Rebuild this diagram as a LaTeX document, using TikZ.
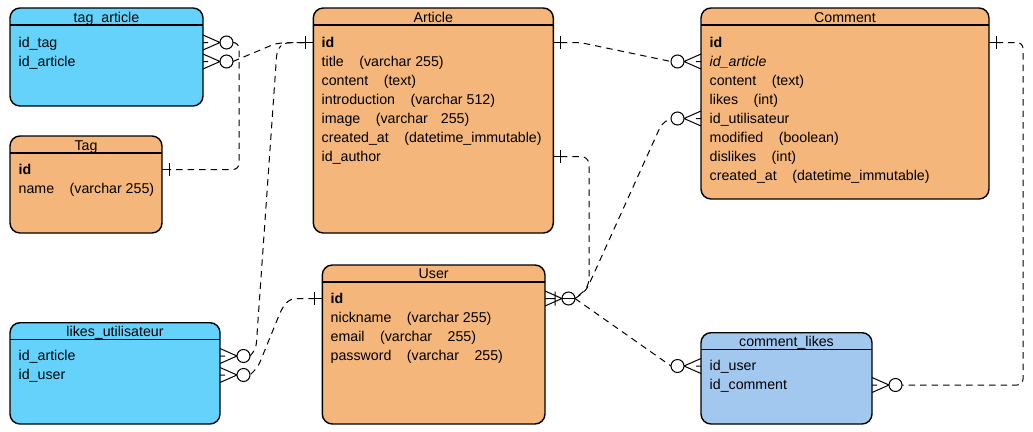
\documentclass[tikz,border=0pt]{standalone}
\usepackage{fontspec}
\setmainfont{Liberation Sans}
\definecolor{entOrange}{RGB}{244,182,122}
\definecolor{entCyan}{RGB}{100,210,250}
\definecolor{entBlue}{RGB}{163,200,240}
\newcommand{\tsep}{\hspace{15.5pt}}
\newcommand{\nsep}{\hspace{13pt}}
\tikzset{
  entity/.style={draw=black, line width=1.4pt, rounded corners=10pt,
    anchor=north west, inner sep=0pt, outer sep=0pt},
  hdrline/.style={draw=black, line width=1.1pt},
  hdr/.style={anchor=base, inner sep=0pt},
  % attribute rows: anchored on the attribute's line, text set slightly lower
  row/.style={anchor=mid west, inner sep=0pt,
    execute at begin node={\setbox0\hbox\bgroup},
    execute at end node={\egroup\lower2pt\box0}},
  fk/.style={draw=black, line width=1pt, dash pattern=on 6.5pt off 5pt, rounded corners=6pt},
  endmark/.style={draw=black, line width=1pt, solid},
  % zero-or-many end: crow's foot at the entity, circle outside
  manyzero/.pic={
    \draw[endmark] (0,-7.5) -- (17,0) -- (0,7.5) (0,0) -- (5,0);
    \draw[endmark, fill=white] (23.5,0) circle (6.5);
    \coordinate (-end) at (30,0);
  },
  % zero-or-many end with an extra bar, circle crossed by the line
  manyzerobar/.pic={
    \draw[endmark] (0,-7.5) -- (17,0) -- (0,7.5) (0,0) -- (10,0) (10,-7) -- (10,7);
    \draw[endmark, fill=white] (23.5,0) circle (6.5);
    \draw[endmark] (17,0) -- (30,0);
    \coordinate (-end) at (30,0);
  },
  % exactly-one end: short line with a bar
  onemark/.pic={
    \draw[endmark] (0,0) -- (7.5,0) (7.5,-6.5) -- (7.5,6.5);
    \coordinate (-end) at (7.5,0);
  },
}
\begin{document}
\begin{tikzpicture}[x=1pt, y=-1pt, font=\fontsize{14.2}{17}\selectfont]
\useasboundingbox (0,0) rectangle (1033,431);

% ---------- entities ----------
\node[entity, fill=entCyan, minimum width=193pt, minimum height=98pt] (tagA) at (10,8) {};
\draw[hdrline] ([yshift=-17pt]tagA.north west) -- ([yshift=-17pt]tagA.north east);
\node[hdr] (tagA-t) at ([yshift=-14pt]tagA.north) {tag\_article};
\node[row] (ta-1) at (18.5,42.5) {id\_tag};
\node[row] (ta-2) at (18.5,61.5) {id\_article};

\node[entity, fill=entOrange, minimum width=152pt, minimum height=97pt] (tag) at (10,136) {};
\draw[hdrline] ([yshift=-17pt]tag.north west) -- ([yshift=-17pt]tag.north east);
\node[hdr] (tag-t) at ([yshift=-14pt]tag.north) {Tag};
\node[row] (tg-1) at (18.5,169.5) {\textbf{id}};
\node[row] (tg-2) at (18.5,188.5) {name\tsep(varchar 255)};

\node[entity, fill=entOrange, minimum width=240pt, minimum height=225pt] (article) at (313.3,8) {};
\draw[hdrline] ([yshift=-17pt]article.north west) -- ([yshift=-17pt]article.north east);
\node[hdr] (article-t) at ([yshift=-14pt]article.north) {Article};
\node[row] (ar-1) at (321.5,42.5) {\textbf{id}};
\node[row] (ar-2) at (321.5,61.5) {title\tsep(varchar 255)};
\node[row] (ar-3) at (321.5,80.5) {content\tsep(text)};
\node[row] (ar-4) at (321.5,99.5) {introduction\tsep(varchar 512)};
\node[row] (ar-5) at (321.5,118.5) {image\tsep(varchar\nsep 255)};
\node[row] (ar-6) at (321.5,137.5) {created\_at\tsep(datetime\_immutable)};
\node[row] (ar-7) at (321.5,156.5) {id\_author};

\node[entity, fill=entOrange, minimum width=288pt, minimum height=191pt] (comment) at (701,8) {};
\draw[hdrline] ([yshift=-17pt]comment.north west) -- ([yshift=-17pt]comment.north east);
\node[hdr] (comment-t) at ([yshift=-14pt]comment.north) {Comment};
\node[row] (cm-1) at (709.5,42.5) {\textbf{id}};
\node[row] (cm-2) at (709.5,61.5) {\textit{id\_article}};
\node[row] (cm-3) at (709.5,80.5) {content\tsep(text)};
\node[row] (cm-4) at (709.5,99.5) {likes\tsep(int)};
\node[row] (cm-5) at (709.5,118.5) {id\_utilisateur};
\node[row] (cm-6) at (709.5,137.5) {modified\tsep(boolean)};
\node[row] (cm-7) at (709.5,156.5) {dislikes\tsep(int)};
\node[row] (cm-8) at (709.5,175.5) {created\_at\tsep(datetime\_immutable)};

\node[entity, fill=entOrange, minimum width=222.7pt, minimum height=159pt] (user) at (322.3,265) {};
\draw[hdrline] ([yshift=-17pt]user.north west) -- ([yshift=-17pt]user.north east);
\node[hdr] (user-t) at ([yshift=-13pt]user.north) {User};
\node[row] (us-1) at (330.5,298.5) {\textbf{id}};
\node[row] (us-2) at (330.5,317.5) {nickname\tsep(varchar 255)};
\node[row] (us-3) at (330.5,336.5) {email\tsep(varchar\tsep 255)};
\node[row] (us-4) at (330.5,355.5) {password\tsep(varchar\tsep 255)};

\node[entity, fill=entCyan, minimum width=210pt, minimum height=101.3pt] (likes) at (10,322.7) {};
\draw[hdrline] ([yshift=-17pt]likes.north west) -- ([yshift=-17pt]likes.north east);
\node[hdr] (likes-t) at ([yshift=-13.5pt]likes.north) {likes\_utilisateur};
\node[row] (lk-1) at (18.5,356) {id\_article};
\node[row] (lk-2) at (18.5,375) {id\_user};

\node[entity, fill=entBlue, minimum width=171pt, minimum height=91.3pt] (clikes) at (701,332.7) {};
\draw[hdrline] ([yshift=-17pt]clikes.north west) -- ([yshift=-17pt]clikes.north east);
\node[hdr] (clikes-t) at ([yshift=-13.5pt]clikes.north) {comment\_likes};
\node[row] (cl-1) at (709.5,366) {id\_user};
\node[row] (cl-2) at (709.5,385) {id\_comment};

% ---------- relationship ends ----------
\pic (eTA1) at (tagA.east |- ta-1.mid west) {manyzero};
\pic (eTA2) at (tagA.east |- ta-2.mid west) {manyzero};
\pic (eTG)  at (tag.east |- tg-1.mid west) {onemark};
\pic[xscale=-1] (eARl) at (article.west |- ar-1.mid west) {onemark};
\pic (eARr) at (article.east |- ar-1.mid west) {onemark};
\pic (eARa) at (article.east |- ar-7.mid west) {onemark};
\pic[xscale=-1] (eCMa) at (comment.west |- cm-2.mid west) {manyzero};
\pic[xscale=-1] (eCMu) at (comment.west |- cm-5.mid west) {manyzero};
\pic (eCMr) at (comment.east |- cm-1.mid west) {onemark};
\pic[xscale=-1] (eUSl) at (user.west |- us-1.mid west) {onemark};
\pic (eUSr) at (user.east |- us-1.mid west) {manyzerobar};
\pic (eLK1) at (likes.east |- lk-1.mid west) {manyzero};
\pic (eLK2) at (likes.east |- lk-2.mid west) {manyzero};
\pic[xscale=-1] (eCLu) at (clikes.west |- cl-1.mid west) {manyzero};
\pic (eCLc) at (clikes.east |- cl-2.mid west) {manyzero};

% ---------- relationships ----------
\draw[fk] (eTA1-end) -- (239,42.5) -- (239,169.5) -- (eTG-end);
\draw[fk] (eTA2-end) -- (240,58.5) -- (277,43) -- (eARl-end);
\draw[fk] (eLK1-end) -- (256,349) -- (277,50) -- (284,42.5) -- (eARl-end);
\draw[fk] (eUSl-end) -- (290,298.5) -- (282,308) -- (258,367) -- (eLK2-end);
\draw[fk] (eARr-end) -- (580,42.5) -- (eCMa-end);
\draw[fk, rounded corners=8pt] (eARa-end) -- (589,156.5) -- (589,287) -- (eUSr-end);
\draw[fk] (eUSr-end) -- (586,291) -- (662,123) -- (eCMu-end);
\draw[fk] (eUSr-end) -- (eCLu-end);
\draw[fk] (eCMr-end) -- (1023,42.5) -- (1023,385) -- (eCLc-end);
\end{tikzpicture}
\end{document}
